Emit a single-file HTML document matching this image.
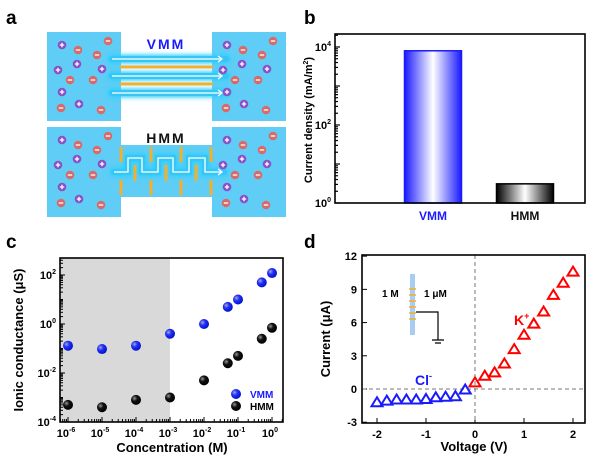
<!DOCTYPE html>
<html><head><meta charset="utf-8"><style>
body{margin:0;background:#fff;width:600px;height:457px;overflow:hidden}
svg{display:block;font-family:"Liberation Sans",Arial,sans-serif}
</style></head><body>
<svg id="fig" width="600" height="457" viewBox="0 0 600 457">
<defs>
<linearGradient id="gb" x1="0" x2="1"><stop offset="0" stop-color="#1a1aff"/><stop offset="0.5" stop-color="#fff"/><stop offset="1" stop-color="#1a1aff"/></linearGradient>
<linearGradient id="gk" x1="0" x2="1"><stop offset="0" stop-color="#000"/><stop offset="0.5" stop-color="#fff"/><stop offset="1" stop-color="#000"/></linearGradient>
<radialGradient id="bb" cx="0.35" cy="0.35" r="0.7"><stop offset="0" stop-color="#aab"/><stop offset="0.4" stop-color="#2230ff"/><stop offset="1" stop-color="#0010c0"/></radialGradient>
<radialGradient id="kb" cx="0.35" cy="0.35" r="0.7"><stop offset="0" stop-color="#999"/><stop offset="0.4" stop-color="#111"/><stop offset="1" stop-color="#000"/></radialGradient>
<filter id="glow" x="-20%" y="-100%" width="140%" height="300%"><feGaussianBlur stdDeviation="2"/></filter>
</defs>
<g font-weight="bold" font-size="19">
<text x="6" y="24">a</text>
<text x="304" y="24">b</text>
<text x="6" y="248">c</text>
<text x="304" y="248">d</text>
</g>
<g id="pa">
<rect x="47" y="32" width="74" height="89" fill="#5fcdf5"/>
<rect x="212" y="32" width="74" height="89" fill="#5fcdf5"/>
<rect x="47" y="127" width="74" height="90" fill="#5fcdf5"/>
<rect x="212" y="127" width="74" height="90" fill="#5fcdf5"/>
<rect x="121" y="145" width="91" height="52" fill="#5fcdf5"/>
<g stroke="#2fd0ff" stroke-width="9" stroke-linecap="round" filter="url(#glow)">
<line x1="112" y1="59" x2="226" y2="59"/><line x1="112" y1="76" x2="226" y2="76"/><line x1="112" y1="93" x2="226" y2="93"/>
<path d="M114 172 H128 V158 H142 V172 H158 V158 H173 V172 H189 V158 H205 V172 H224" fill="none"/>
</g>
<g stroke="#36c6f5" stroke-width="6" stroke-linecap="round">
<line x1="112" y1="59" x2="226" y2="59"/><line x1="112" y1="76" x2="226" y2="76"/><line x1="112" y1="93" x2="226" y2="93"/>
<path d="M114 172 H128 V158 H142 V172 H158 V158 H173 V172 H189 V158 H205 V172 H224" fill="none"/>
</g>
<g stroke="#f0b030" stroke-width="3"><line x1="120" y1="67" x2="213" y2="67"/><line x1="120" y1="84" x2="213" y2="84"/>
<line x1="121" y1="147" x2="121" y2="162"/><line x1="151" y1="147" x2="151" y2="162"/><line x1="181" y1="147" x2="181" y2="162"/><line x1="211" y1="147" x2="211" y2="162"/>
<line x1="121" y1="180" x2="121" y2="195"/><line x1="151" y1="180" x2="151" y2="195"/><line x1="181" y1="180" x2="181" y2="195"/><line x1="211" y1="180" x2="211" y2="195"/>
<line x1="135" y1="165" x2="135" y2="181"/><line x1="166" y1="165" x2="166" y2="181"/><line x1="196" y1="165" x2="196" y2="181"/></g>
<g stroke="#fff" stroke-width="1.3" fill="none">
<path d="M112 59 H222 M218 56 L222 59 L218 62"/><path d="M112 76 H222 M218 73 L222 76 L218 79"/><path d="M112 93 H222 M218 90 L222 93 L218 96"/>
<path d="M114 172 H128 V158 H142 V172 H158 V158 H173 V172 H189 V158 H205 V172 H222 M218 169 L222 172 L218 175"/></g>
<text x="166" y="49" font-size="14" font-weight="bold" fill="#1a1aff" text-anchor="middle" letter-spacing="2">VMM</text>
<text x="166" y="143" font-size="14" font-weight="bold" fill="#111" text-anchor="middle" letter-spacing="2">HMM</text>
<g id="ions"></g>
</g>
<g id="pb"></g>
<g id="pc"></g>
<g id="pd"></g>
</svg>
<script>
// Panel b data
const bCategories=["VMM","HMM"];
const bValues=[8000,3.1];
// Panel c data
const cConc=[1e-6,1e-5,1e-4,1e-3,1e-2,0.05,0.1,0.5,1];
const cVMM=[0.13,0.095,0.13,0.4,1.0,5,10,50,120];
const cHMM=[5e-4,4e-4,8e-4,1e-3,5e-3,0.025,0.05,0.25,0.7];
const cYTicks=[-4,-2,0,2];
const cXTicks=[-6,-5,-4,-3,-2,-1,0];
// Panel d data
const dClV=[-2,-1.8,-1.6,-1.4,-1.2,-1,-0.8,-0.6,-0.4,-0.2];
const dClI=[-1.2,-1.05,-0.95,-0.95,-0.95,-0.9,-0.75,-0.7,-0.65,-0.05];
const dKV=[0,0.2,0.4,0.6,0.8,1,1.2,1.4,1.6,1.8,2];
const dKI=[0.6,1.2,1.5,2.3,3.6,4.9,5.9,7.0,8.5,9.6,10.6];
const dYTicks=[-3,0,3,6,9,12];
const dXTicks=[-2,-1,0,1,2];

const NS="http://www.w3.org/2000/svg";
function mk(p,tag,at,txt){const e=document.createElementNS(NS,tag);for(const k in at)e.setAttribute(k,at[k]);if(txt!==undefined)e.textContent=txt;p.appendChild(e);return e;}

// ions
const ions=document.getElementById('ions');
const ionPos=[[62,45,1],[78,50,0],[108,41,0],[97,55,0],[58,70,1],[77,64,1],[102,69,1],[70,80,0],[93,80,0],[62,92,1],[79,104,1],[61,108,0],[101,110,0]];
[0,95].forEach(dy=>[0,165].forEach(dx=>{ionPos.forEach(p=>{
 const g=mk(ions,'g',{});
 
 
 mk(g,'circle',{cx:p[0]+dx,cy:p[1]+dy,r:4.3,fill:p[2]?'#8a4fc8':'#d86a6a'});
 mk(g,'path',{d:p[2]?`M${p[0]+dx-2.2} ${p[1]+dy}h4.4M${p[0]+dx} ${p[1]+dy-2.2}v4.4`:`M${p[0]+dx-2.2} ${p[1]+dy}h4.4`,stroke:'#fff','stroke-width':1.3});
});}));

// Panel b
(function(){
const g=document.getElementById('pb');
const L=335,R=585,T=34,B=203,ppd=39;
const y=v=>B-Math.log10(v)*ppd;
const xc=[433,525],bw=57;
bValues.forEach((v,i)=>{
 const r=mk(g,'rect',{x:xc[i]-bw/2,y:y(v),width:bw,height:B-y(v),fill:i?'url(#gk)':'url(#gb)',stroke:i?'#000':'#1a1aff','stroke-width':1.5});
 
 
 const t=mk(g,'text',{x:xc[i],y:220,'font-size':12,'font-weight':'bold','text-anchor':'middle',fill:i?'#111':'#1a1aff'},bCategories[i]);
 
 
});
for(let d=0;d<=4;d++){for(let m=1;m<10;m++){const yy=y(m*Math.pow(10,d));if(yy<T)break;mk(g,'line',{x1:L,x2:L+(m==1?5:3),y1:yy,y2:yy,stroke:'#000','stroke-width':1.2});}}
[0,2,4].forEach(e=>{const t=mk(g,'text',{x:L-4,y:y(Math.pow(10,e))+4,'font-size':11,'font-weight':'bold','text-anchor':'end'});t.innerHTML=`10<tspan dy="-5" font-size="7">${e}</tspan>`;
 });
const f=mk(g,'rect',{x:L,y:T,width:R-L,height:B-T,fill:'none',stroke:'#000','stroke-width':1.6});

const yt=mk(g,'text',{transform:'translate(312,120) rotate(-90)','font-size':11,'font-weight':'bold','text-anchor':'middle'});
yt.innerHTML='Current density (mA/m<tspan dy="-4" font-size="7">2</tspan><tspan dy="4">)</tspan>';

})();

// Panel c
(function(){
const g=document.getElementById('pc');
const L=60,R=283,T=258,B=422,ppy=24.5,ppx=34;
const y=v=>B-(Math.log10(v)+4)*ppy;
const x=v=>68+(Math.log10(v)+6)*ppx;
const sh=mk(g,'rect',{x:L,y:T,width:x(1e-3)-L,height:B-T,fill:'#d9d9d9'});

cYTicks.forEach(e=>{const t=mk(g,'text',{x:L-4,y:y(Math.pow(10,e))+4,'font-size':11,'font-weight':'bold','text-anchor':'end'});t.innerHTML=`10<tspan dy="-5" font-size="7">${e}</tspan>`;
 });
for(let d=-4;d<=2;d++)for(let m=1;m<10;m++){const yy=y(m*Math.pow(10,d));if(yy<T)break;mk(g,'line',{x1:L,x2:L+(m==1&&d%2==0?5:3),y1:yy,y2:yy,stroke:'#000'});}
cXTicks.forEach(e=>{const t=mk(g,'text',{x:x(Math.pow(10,e))-2,y:B+15,'font-size':11,'font-weight':'bold','text-anchor':'middle'});t.innerHTML=`10<tspan dy="-5" font-size="7">${e}</tspan>`;
 });
for(let d=-7;d<=0;d++)for(let m=1;m<10;m++){const xx=x(m*Math.pow(10,d));if(xx<L||xx>R)continue;mk(g,'line',{x1:xx,x2:xx,y1:B,y2:B-(m==1?5:3),stroke:'#000'});}
cConc.forEach((c,i)=>{
 const p=mk(g,'circle',{cx:x(c),cy:y(cVMM[i]),r:5,fill:'url(#bb)'});
 
 const q=mk(g,'circle',{cx:x(c),cy:y(cHMM[i]),r:5,fill:'url(#kb)'});
 
});
const le=mk(g,'g',{});
mk(le,'circle',{cx:236,cy:394,r:5,fill:'url(#bb)'});mk(le,'circle',{cx:236,cy:406,r:5,fill:'url(#kb)'});
mk(le,'text',{x:250,y:398,'font-size':10,'font-weight':'bold',fill:'#1a1aff'},'VMM');
mk(le,'text',{x:250,y:410,'font-size':10,'font-weight':'bold'},'HMM');
const f=mk(g,'rect',{x:L,y:T,width:R-L,height:B-T,fill:'none',stroke:'#000','stroke-width':1.6});

const yt=mk(g,'text',{transform:'translate(23,340) rotate(-90)','font-size':13,'font-weight':'bold','text-anchor':'middle'},'Ionic conductance (μS)');

const xt=mk(g,'text',{x:172,y:452,'font-size':13,'font-weight':'bold','text-anchor':'middle'},'Concentration (M)');

})();

// Panel d
(function(){
const g=document.getElementById('pd');
const L=362,R=585,T=255,B=423;
const x=v=>475+v*49;
const y=v=>389-v*11.07;
dYTicks.forEach(v=>{mk(g,'line',{x1:L,x2:L+5,y1:y(v),y2:y(v),stroke:'#000'});
 const t=mk(g,'text',{x:L-5,y:y(v)+4,'font-size':11,'font-weight':'bold','text-anchor':'end'},v);
 });
dXTicks.forEach(v=>{mk(g,'line',{x1:x(v),x2:x(v),y1:B,y2:B-5,stroke:'#000'});
 const t=mk(g,'text',{x:x(v),y:B+15,'font-size':11,'font-weight':'bold','text-anchor':'middle'},v);
 });
mk(g,'line',{x1:L,x2:R,y1:y(0),y2:y(0),stroke:'#777','stroke-dasharray':'4,3'});
mk(g,'line',{x1:x(0),x2:x(0),y1:T,y2:B,stroke:'#777','stroke-dasharray':'4,3'});
const tri=(cx,cy)=>`M${cx} ${cy-5}L${cx+5.5} ${cy+4}L${cx-5.5} ${cy+4}Z`;
dClV.forEach((v,i)=>{const p=mk(g,'path',{d:tri(x(v),y(dClI[i])),fill:'none',stroke:'#1a1aff','stroke-width':2});
 });
dKV.forEach((v,i)=>{const p=mk(g,'path',{d:tri(x(v),y(dKI[i])),fill:'none',stroke:'#f00','stroke-width':2});
 });
const k=mk(g,'text',{x:514,y:325,'font-size':14,'font-weight':'bold',fill:'#f00'});k.innerHTML='K<tspan dy="-6" font-size="9">+</tspan>';

const c=mk(g,'text',{x:415,y:385,'font-size':14,'font-weight':'bold',fill:'#1a1aff'});c.innerHTML='Cl<tspan dy="-6" font-size="9">-</tspan>';

const ins=mk(g,'g',{});
mk(ins,'rect',{x:410,y:274,width:5,height:61,fill:'#a9cdf0'});
for(let i=0;i<6;i++)mk(ins,'line',{x1:409,x2:416,y1:289+i*6,y2:289+i*6,stroke:'#f0b030','stroke-width':1.5});
mk(ins,'path',{d:'M416 312H438V340M432 340H444M435 343H441',stroke:'#000',fill:'none','stroke-width':1.2});
mk(ins,'text',{x:382,y:297,'font-size':10,'font-weight':'bold'},'1 M');
mk(ins,'text',{x:424,y:297,'font-size':10,'font-weight':'bold'},'1 μM');
const f=mk(g,'rect',{x:L,y:T,width:R-L,height:B-T,fill:'none',stroke:'#000','stroke-width':1.6});

const yt=mk(g,'text',{transform:'translate(330,339) rotate(-90)','font-size':13,'font-weight':'bold','text-anchor':'middle'},'Current (μA)');

const xt=mk(g,'text',{x:474,y:451,'font-size':13,'font-weight':'bold','text-anchor':'middle'},'Voltage (V)');

})();
</script>
</body></html>
